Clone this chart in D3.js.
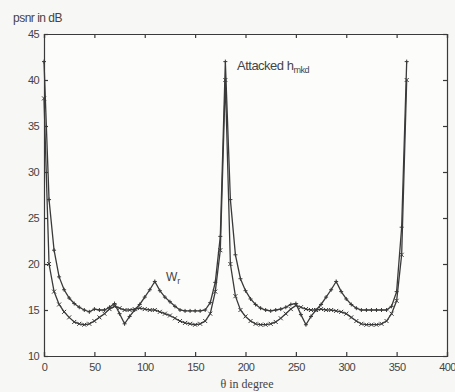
<!DOCTYPE html>
<html><head><meta charset="utf-8">
<script src="https://cdn.jsdelivr.net/npm/d3@7"></script>
<style>body{margin:0;background:#f7f7f5;}svg{display:block;}</style>
</head><body>
<script>
const theta = d3.range(0, 361, 5);
// Attacked h_mkd (peaks ~42)
const seriesA = [42,27,21.5,18.6,17.2,16.3,15.7,15.3,15.0,14.8,15.1,15.0,15.0,15.3,15.7,14.6,13.5,14.3,15.0,15.6,16.4,17.2,18.1,17.1,16.4,15.9,15.4,15.0,14.9,14.9,14.9,14.9,15.0,15.8,18.0,23,
                 42,27,21.0,18.4,17.1,16.2,15.6,15.2,15.0,14.9,15.0,15.1,15.3,15.6,15.7,14.5,13.4,14.3,15.0,15.6,16.4,17.2,18.1,17.0,16.2,15.6,15.2,15.0,15.0,15.0,15.0,15.0,15.0,15.4,17.0,24,42];
// W_r
const seriesB = [38,20,17.0,15.6,14.8,14.2,13.7,13.5,13.4,13.5,13.8,14.2,14.6,15.1,15.4,15.2,15.0,15.0,15.1,15.2,15.1,15.0,15.0,14.8,14.6,14.4,14.1,13.8,13.6,13.5,13.4,13.5,13.8,14.6,17.0,21.5,
                 40,20,16.5,15.0,14.3,13.8,13.5,13.4,13.4,13.5,13.7,14.1,14.6,15.1,15.5,15.3,15.1,15.0,15.0,15.1,15.0,15.0,14.9,14.8,14.6,14.2,13.8,13.5,13.4,13.4,13.4,13.5,13.8,14.6,16.0,21,40];
const xTicks = [0,50,100,150,200,250,300,350,400];
const yTicks = [10,15,20,25,30,35,40,45];

const W = 455, H = 392;
const svg = d3.select("body").append("svg").attr("width", W).attr("height", H);
const x = d3.scaleLinear().domain([0,400]).range([44,447]);
const y = d3.scaleLinear().domain([10,45]).range([356,34]);
const ink = "#3a3a3a";

svg.append("rect").attr("x",44).attr("y",34).attr("width",403).attr("height",322).attr("fill","#fcfcfb");

const fontTick = "'Liberation Sans', Arial, sans-serif";
const gx = svg.append("g").attr("transform","translate(0,356)")
  .call(d3.axisBottom(x).tickValues(xTicks).tickSize(-4).tickPadding(7).tickFormat(d3.format("d")));
const gxt = svg.append("g").attr("transform","translate(0,34)")
  .call(d3.axisTop(x).tickValues(xTicks).tickSize(-4).tickFormat(""));
const gy = svg.append("g").attr("transform","translate(44,0)")
  .call(d3.axisLeft(y).tickValues(yTicks).tickSize(-4).tickPadding(5).tickFormat(d3.format("d")));
const gyr = svg.append("g").attr("transform","translate(447,0)")
  .call(d3.axisRight(y).tickValues(yTicks).tickSize(-4).tickFormat(""));
[gx,gxt,gy,gyr].forEach(g=>{
  g.selectAll("path,line").attr("stroke",ink).attr("stroke-width",1.2);
  g.selectAll("text").attr("fill","#444").style("font-family",fontTick).style("font-size","11px").style("letter-spacing","-0.6px");
});

const line = d3.line().x((d,i)=>x(theta[i])).y(d=>y(d));
[seriesA, seriesB].forEach((s,k)=>{
  svg.append("path").datum(s).attr("d",line).attr("fill","none").attr("stroke",ink).attr("stroke-width",1.3);
  const m = svg.append("g");
  s.forEach((v,i)=>{
    const cx = x(theta[i]), cy = y(v), r = 2;
    m.append("path").attr("d", k===0
      ? `M${cx-r},${cy}L${cx+r},${cy}M${cx},${cy-r}L${cx},${cy+r}`
      : `M${cx-r},${cy-r}L${cx+r},${cy+r}M${cx-r},${cy+r}L${cx+r},${cy-r}`)
      .attr("stroke",ink).attr("stroke-width",1);
  });
});

svg.append("text").attr("x",13).attr("y",22).text("psnr in dB")
  .attr("fill","#444").style("font-family",fontTick).style("font-size","12px").style("letter-spacing","-0.5px");
svg.append("text").attr("x",247).attr("y",388).attr("text-anchor","middle").text("θ in degree")
  .attr("fill","#444").style("font-family","'Liberation Serif', serif").style("font-size","12px");
const t1 = svg.append("text").attr("x",237).attr("y",70).attr("fill","#444")
  .style("font-family",fontTick).style("font-size","13px").style("letter-spacing","-0.5px");
t1.append("tspan").text("Attacked h");
t1.append("tspan").attr("dy",3).style("font-size","9px").text("mkd");
const t2 = svg.append("text").attr("x",166).attr("y",281).attr("fill","#444")
  .style("font-family",fontTick).style("font-size","12px");
t2.append("tspan").text("W");
t2.append("tspan").attr("dy",3).style("font-size","9px").text("r");
</script>
</body></html>
